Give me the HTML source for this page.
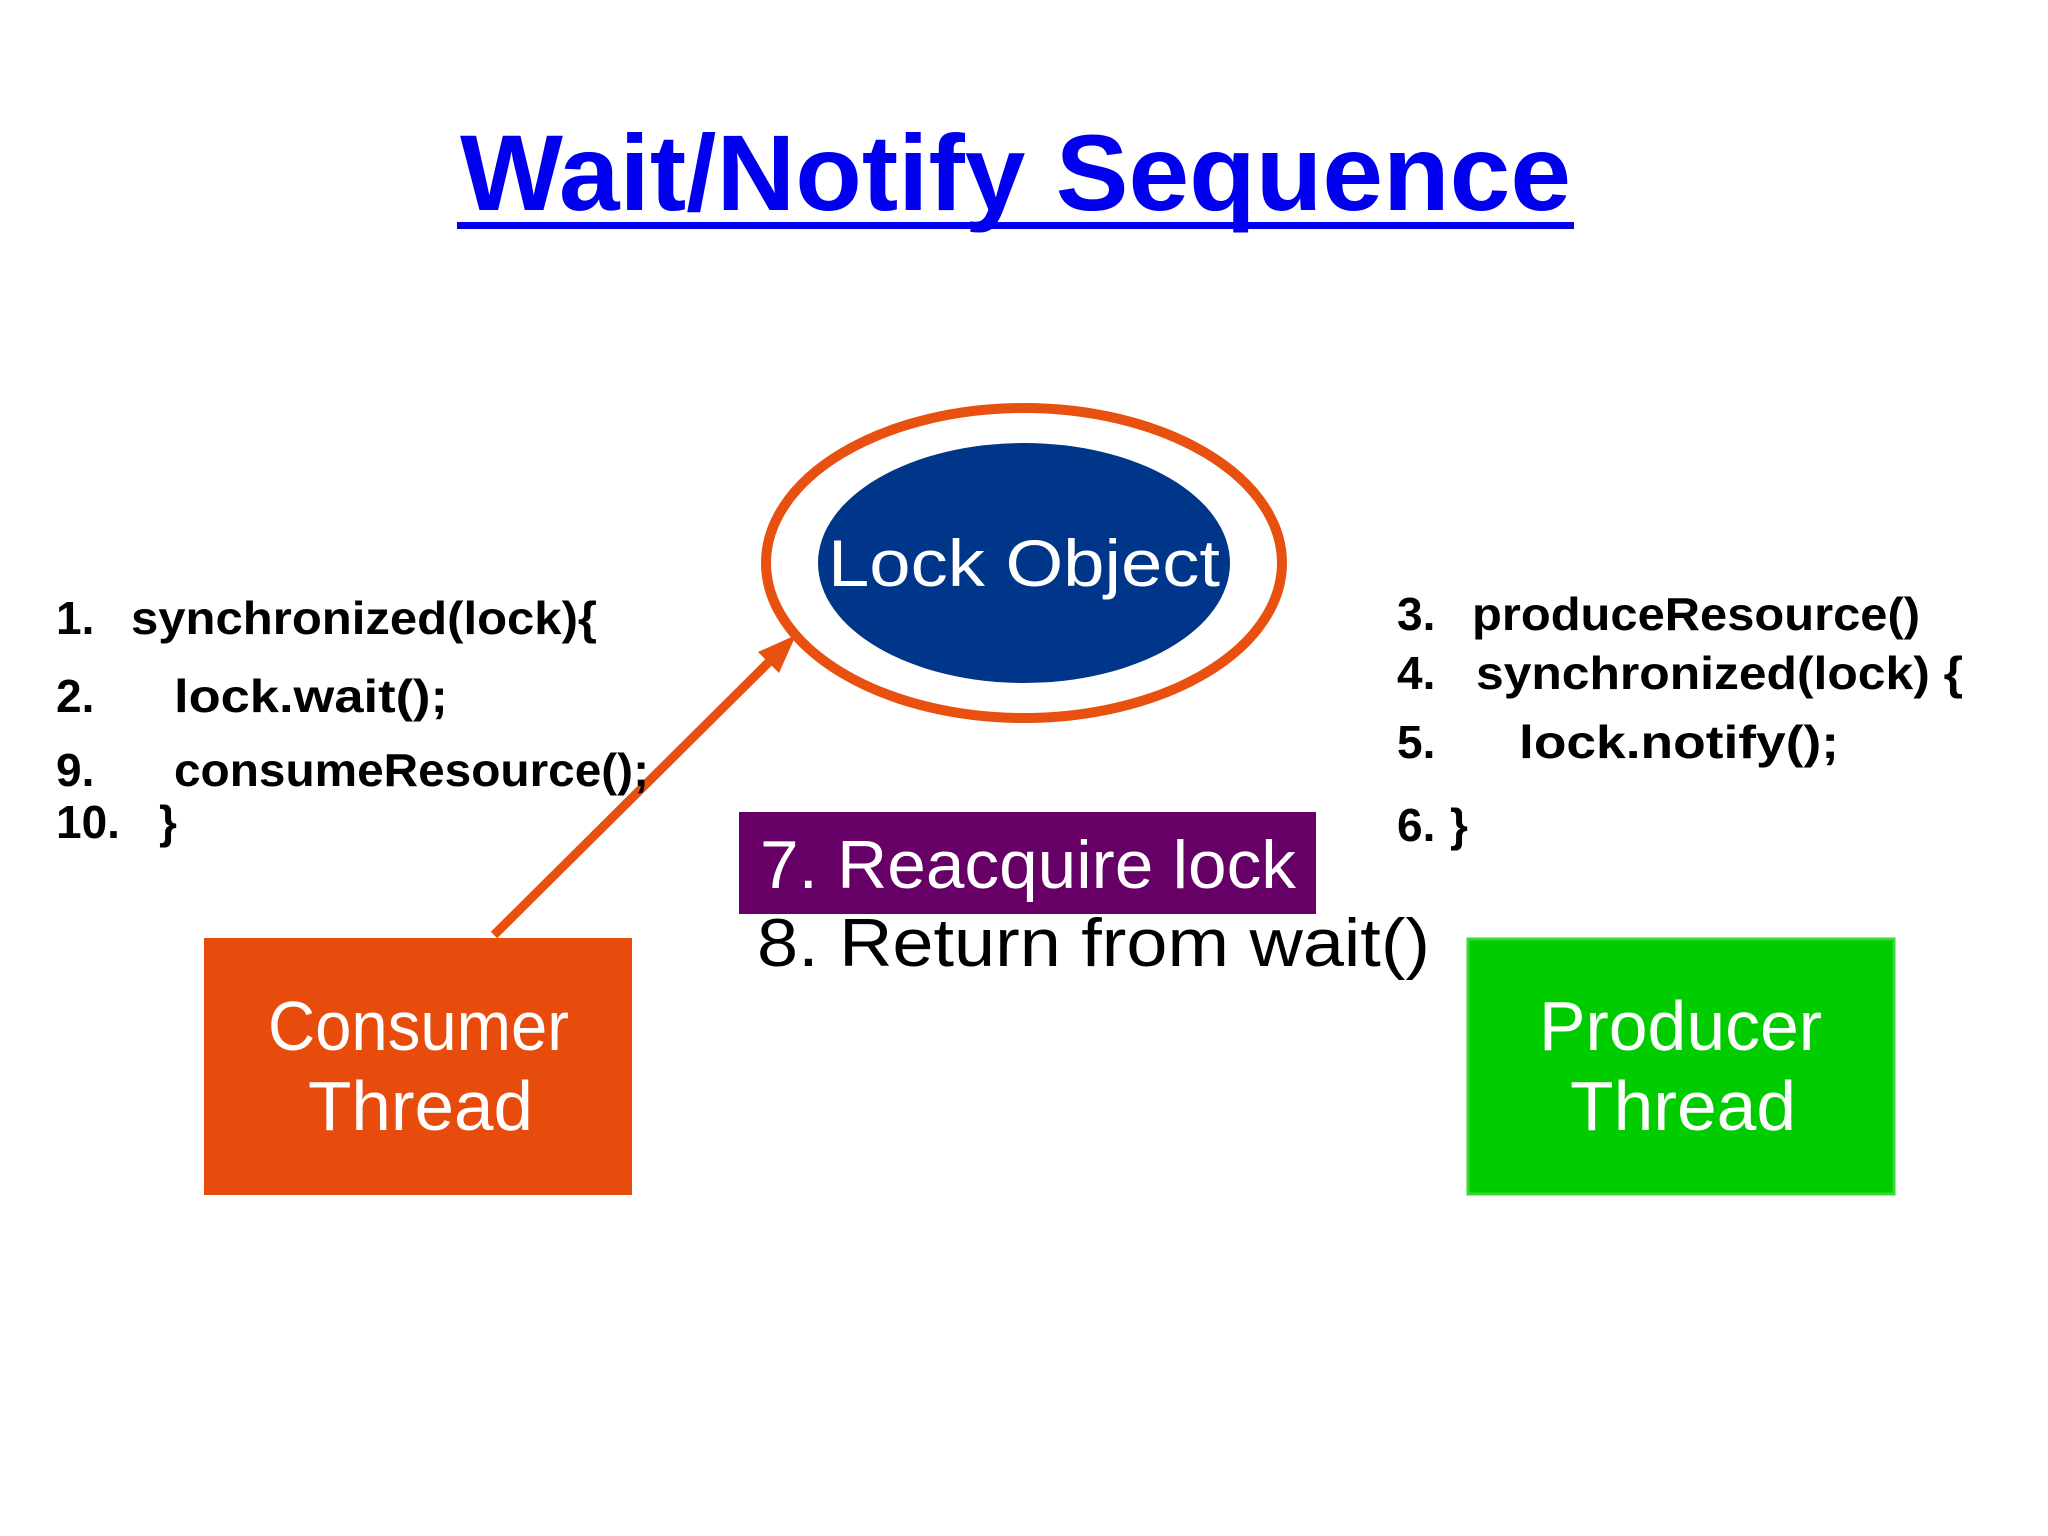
<!DOCTYPE html>
<html><head><meta charset="utf-8"><style>
html,body{margin:0;padding:0;background:#fff;}
body{width:2048px;height:1536px;overflow:hidden;position:relative;font-family:"Liberation Sans",sans-serif;}
</style></head><body>
<svg width="2048" height="1536" style="position:absolute;left:0;top:0">
<text x="460" y="210" textLength="1111" lengthAdjust="spacingAndGlyphs" font-family="Liberation Sans" font-weight="bold" font-size="108" fill="#0000ee">Wait/Notify Sequence</text>
<rect x="457" y="222" width="1117" height="7" fill="#0000ee"/>
<ellipse cx="1024" cy="563" rx="258" ry="155" fill="none" stroke="#e8500f" stroke-width="10"/>
<ellipse cx="1024" cy="563" rx="206" ry="120" fill="#003689"/>
<text x="828" y="586" textLength="392" lengthAdjust="spacingAndGlyphs" font-family="Liberation Sans" font-size="66" fill="#fff">Lock Object</text>
<rect x="739" y="812" width="577" height="102" fill="#660066"/>
<text x="760" y="888" textLength="536" lengthAdjust="spacingAndGlyphs" font-family="Liberation Sans" font-size="68" fill="#fff">7. Reacquire lock</text>
<text x="757" y="966" textLength="673" lengthAdjust="spacingAndGlyphs" font-family="Liberation Sans" font-size="68" fill="#000">8. Return from wait()</text>
<rect x="204" y="938" width="428" height="257" fill="#e84c0c"/>
<text x="268" y="1050" textLength="301" lengthAdjust="spacingAndGlyphs" font-family="Liberation Sans" font-size="70" fill="#fff">Consumer</text>
<text x="308" y="1130" textLength="225" lengthAdjust="spacingAndGlyphs" font-family="Liberation Sans" font-size="70" fill="#fff">Thread</text>
<rect x="1468" y="939" width="426" height="255" fill="#00cc00" stroke="#33dd33" stroke-width="3"/>
<text x="1539" y="1050" textLength="283" lengthAdjust="spacingAndGlyphs" font-family="Liberation Sans" font-size="70" fill="#fff">Producer</text>
<text x="1570" y="1130" textLength="226" lengthAdjust="spacingAndGlyphs" font-family="Liberation Sans" font-size="70" fill="#fff">Thread</text>
<line x1="494" y1="935" x2="780" y2="651" stroke="#e8500f" stroke-width="9"/>
<polygon points="796,635 758,652 779,673" fill="#e8500f"/>
<g font-family="Liberation Sans" font-weight="bold" font-size="46" fill="#000">
<text x="56" y="634">1.</text><text x="131" y="634" textLength="466" lengthAdjust="spacingAndGlyphs">synchronized(lock){</text>
<text x="56" y="712">2.</text><text x="174" y="712" textLength="274" lengthAdjust="spacingAndGlyphs">lock.wait();</text>
<text x="56" y="786">9.</text><text x="174" y="786" textLength="475" lengthAdjust="spacingAndGlyphs">consumeResource();</text>
<text x="56" y="838">10.</text><text x="159" y="838">}</text>
<text x="1397" y="630">3.</text><text x="1472" y="630" textLength="448" lengthAdjust="spacingAndGlyphs">produceResource()</text>
<text x="1397" y="689">4.</text><text x="1476" y="689" textLength="487" lengthAdjust="spacingAndGlyphs">synchronized(lock) {</text>
<text x="1397" y="758">5.</text><text x="1519" y="758" textLength="320" lengthAdjust="spacingAndGlyphs">lock.notify();</text>
<text x="1397" y="841">6.</text><text x="1450" y="841">}</text>
</g>
</svg>
</body></html>
